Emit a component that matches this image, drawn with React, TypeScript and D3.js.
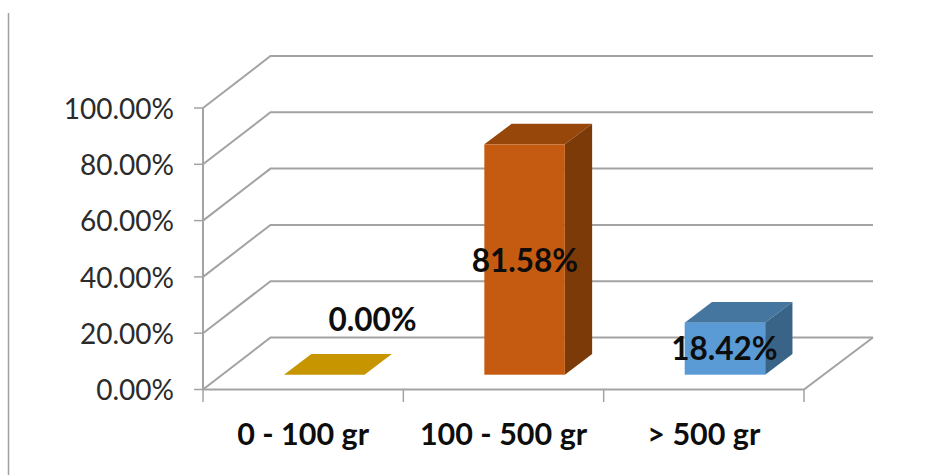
import React from "react";
import * as d3 from "d3";

const categories = ["0 - 100 gr", "100 - 500 gr", "> 500 gr"];
const shares = [0, 81.58, 18.42];
const shareLabels = ["0.00%", "81.58%", "18.42%"];
const tickValues = [0, 20, 40, 60, 80, 100];
const faceColors = ["#c69500", "#c55a11", "#5b9bd5"];
const topColors = ["#c69500", "#974709", "#44769f"];
const sideColors = ["#c69500", "#7c3a09", "#3a6487"];

const width = 931;
const height = 475;
const wallDx = 67.5;
const wallDy = -52;
const barDx = 27.3;
const barDy = -20.6;
const font = "Lato, Carlito, 'Open Sans', sans-serif";
const gridColor = "#a3a3a3";

const x = d3.scaleBand<string>().domain(categories).range([203, 804]);
const y = d3.scaleLinear().domain([0, 100]).range([389.5, 108]);
const barHeight = d3.scaleLinear().domain([0, 100]).range([0, 282.4]);
const barBase = 374.7;
const barWidth = 80.5;
const barInset = 81;

const line = d3.line();
const poly = (pts: [number, number][]) => line(pts) + "Z";

// Anchor points of the value labels
const labelX = [372.5, 525, 724.5];
const labelY = [330.5, 272, 359.5];

export default function App() {
  const [x0, x1] = x.range();
  return (
    <svg
      width={width}
      height={height}
      style={{ position: "fixed", left: 0, top: 0, background: "#fff" }}
    >
      <line x1={8.5} y1={13} x2={8.5} y2={475} stroke="#a0a0a0" strokeWidth={1.5} />

      {/* Side wall and back wall gridlines */}
      {tickValues.map((t) => (
        <path
          key={t}
          d={line([
            [x0, y(t)],
            [x0 + wallDx, y(t) + wallDy],
            [x1 + wallDx + 1.5, y(t) + wallDy],
          ]) as string}
          fill="none"
          stroke={gridColor}
          strokeWidth={2}
        />
      ))}

      {/* Floor edges */}
      <path
        d={line([
          [x0, y(0)],
          [x1, y(0)],
          [x1 + wallDx + 1.5, y(0) + wallDy],
        ]) as string}
        fill="none"
        stroke={gridColor}
        strokeWidth={2}
      />

      {/* Value axis */}
      <line x1={x0} y1={y(100)} x2={x0} y2={y(0)} stroke={gridColor} strokeWidth={2} />
      {tickValues.map((t) => (
        <g key={t}>
          <line x1={x0 - 9} y1={y(t)} x2={x0} y2={y(t)} stroke={gridColor} strokeWidth={1.5} />
          <text
            x={174}
            y={y(t)}
            dy="0.38em"
            textAnchor="end"
            fontFamily={font}
            fontSize={28}
            fill="#2b2b2b"
          >
            {t.toFixed(2)}%
          </text>
        </g>
      ))}

      {/* Category axis */}
      {[...categories.map((c) => x(c) as number), x1].map((px) => (
        <line key={px} x1={px} y1={y(0)} x2={px} y2={402} stroke={gridColor} strokeWidth={1.5} />
      ))}
      {categories.map((c, i) => (
        <text
          key={c}
          x={(x(c) as number) + x.bandwidth() / 2}
          y={445}
          textAnchor="middle"
          fontFamily={font}
          fontWeight={700}
          fontSize={30.5}
          fill="#0d0d0d"
        >
          {c}
        </text>
      ))}

      {/* 3D bars: front face, top face, side face */}
      {categories.map((c, i) => {
        const left = (x(c) as number) + barInset;
        const right = left + barWidth;
        const top = barBase - barHeight(shares[i]);
        return (
          <g key={c}>
            <path
              d={poly([
                [left, top],
                [right, top],
                [right + barDx, top + barDy],
                [left + barDx, top + barDy],
              ])}
              fill={topColors[i]}
            />
            <path
              d={poly([
                [right, top],
                [right + barDx, top + barDy],
                [right + barDx, barBase + barDy],
                [right, barBase],
              ])}
              fill={sideColors[i]}
            />
            <rect x={left} y={top} width={barWidth} height={barBase - top} fill={faceColors[i]} />
          </g>
        );
      })}

      {/* Value labels sit above the bars */}
      {shareLabels.map((label, i) => (
        <text
          key={label}
          x={labelX[i]}
          y={labelY[i]}
          textAnchor="middle"
          fontFamily={font}
          fontWeight={700}
          fontSize={31.5}
          fill="#0d0d0d"
        >
          {label}
        </text>
      ))}
    </svg>
  );
}
